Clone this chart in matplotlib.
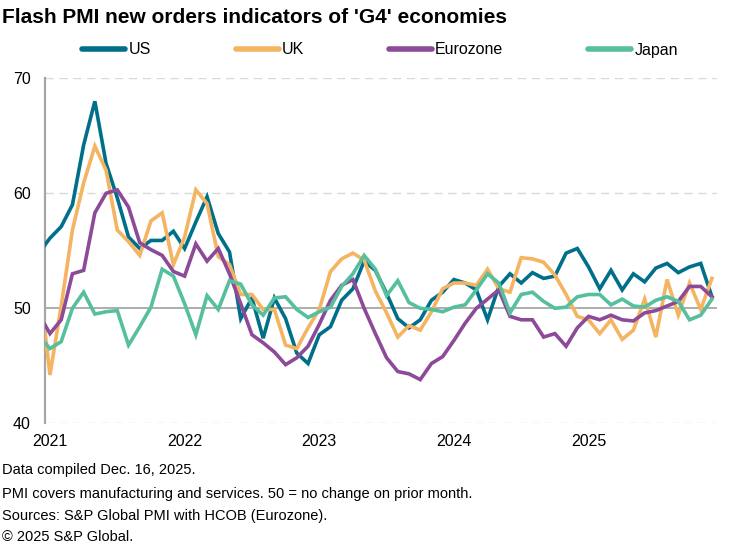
import matplotlib
matplotlib.use("Agg")
import matplotlib.pyplot as plt
from matplotlib.lines import Line2D

# ---------------- data (monthly, Dec 2020 .. Dec 2025) ----------------
month_index = list(range(-1, 60))   # -1 = Dec 2020 (clipped by axis), 0 = Jan 2021
us = [54.8,
      56.1, 57.1, 59.0, 64.2, 68.0, 62.6, 59.6, 56.2, 55.2, 55.9, 55.9, 56.7,
      55.2, 57.5, 59.7, 56.5, 54.9, 49.1, 50.9, 47.4, 50.9, 49.1, 46.1, 45.2,
      47.7, 48.4, 50.7, 51.7, 54.1, 53.3, 51.3, 49.1, 48.3, 49.0, 50.7, 51.4,
      52.5, 52.2, 51.6, 49.0, 51.9, 53.0, 52.2, 53.1, 52.6, 52.8, 54.8, 55.2,
      53.6, 51.7, 53.3, 51.6, 53.0, 52.3, 53.5, 53.9, 53.1, 53.6, 53.9, 51.0]
uk = [52.7,
      44.2, 50.2, 56.8, 60.9, 64.1, 62.0, 56.8, 55.8, 54.6, 57.6, 58.3, 53.8,
      56.2, 60.3, 59.1, 54.5, 53.8, 51.2, 51.2, 49.9, 49.9, 46.8, 46.5, 48.3,
      49.9, 53.2, 54.3, 54.8, 54.2, 51.5, 49.6, 47.5, 48.5, 48.1, 49.7, 51.7,
      52.2, 52.2, 52.0, 53.4, 51.7, 51.4, 54.4, 54.3, 54.0, 52.9, 51.2, 49.3,
      49.0, 47.8, 49.0, 47.3, 48.1, 50.8, 47.5, 52.5, 49.4, 52.2, 49.9, 52.6]
eurozone = [49.5,
      47.8, 49.0, 53.0, 53.3, 58.3, 60.0, 60.3, 58.8, 55.7, 55.1, 54.6, 53.2,
      52.8, 55.6, 54.1, 55.2, 53.0, 50.4, 47.7, 47.0, 46.2, 45.1, 45.7, 46.7,
      48.6, 50.7, 52.0, 52.5, 50.0, 47.8, 45.7, 44.5, 44.3, 43.8, 45.2, 45.8,
      47.2, 48.7, 50.0, 50.8, 51.6, 49.3, 49.0, 49.0, 47.5, 47.8, 46.7, 48.3,
      49.3, 49.0, 49.4, 49.0, 48.9, 49.6, 49.8, 50.2, 50.6, 51.9, 51.9, 51.0]
japan = [47.6,
      46.5, 47.1, 50.0, 51.4, 49.5, 49.7, 49.8, 46.8, 48.4, 50.1, 53.4, 52.8,
      50.4, 47.7, 51.1, 49.9, 52.4, 52.1, 50.3, 49.4, 50.9, 51.0, 49.9, 49.2,
      49.7, 50.1, 51.9, 53.0, 54.6, 53.4, 51.1, 52.4, 50.5, 50.0, 49.9, 49.7,
      50.1, 50.3, 51.6, 53.0, 52.2, 49.6, 51.2, 51.4, 50.6, 50.0, 50.1, 51.0,
      51.2, 51.2, 50.3, 50.8, 50.2, 50.1, 50.7, 51.0, 50.6, 49.0, 49.4, 50.8]

series_names = ["US", "UK", "Eurozone", "Japan"]
series_values = [us, uk, eurozone, japan]
series_colors = ["#00708A", "#F4B462", "#8C4A98", "#55BF9E"]

year_ticks = [0, 12, 24, 36, 48]
year_labels = ["2021", "2022", "2023", "2024", "2025"]
y_ticks = [40, 50, 60, 70]

title = "Flash PMI new orders indicators of 'G4' economies"
footnotes = ["Data compiled Dec. 16, 2025.",
             "PMI covers manufacturing and services. 50 = no change on prior month.",
             "Sources: S&P Global PMI with HCOB (Eurozone).",
             "\u00a9 2025 S&P Global."]

# ---------------- style ----------------
plt.rcParams["font.family"] = ["Liberation Sans", "DejaVu Sans"]

W, H = 737, 545
fig = plt.figure(figsize=(W / 100, H / 100), dpi=100)

def fx(px):
    return px / W

def fy(py):
    return 1 - py / H

ax_left, ax_right, ax_top, ax_bottom = 44.7, 717.0, 78.3, 423.3
ax = fig.add_axes([fx(ax_left), fy(ax_bottom), fx(ax_right - ax_left),
                   (ax_bottom - ax_top) / H])

for name, vals, col in zip(series_names, series_values, series_colors):
    ax.plot(month_index, vals, color=col, lw=2.6, solid_joinstyle="miter",
            label=name, zorder=3)

ax.set_xlim(-0.47, 59.45)
ax.set_ylim(40, 70)

for yv in [40, 60, 70]:
    ax.axhline(yv, color="#D9D9D9", lw=1.0, ls=(0, (6, 4)), zorder=1)
ax.axhline(50, color="#A0A0A0", lw=1.2, zorder=2)

for s in ["top", "right", "bottom"]:
    ax.spines[s].set_visible(False)
ax.spines["left"].set_color("#A6A6A6")
ax.spines["left"].set_linewidth(1.6)

ax.set_yticks(y_ticks)
ax.set_yticklabels([str(v) for v in y_ticks])
ax.set_xticks(year_ticks)
ax.set_xticklabels(year_labels)
ax.tick_params(axis="both", length=0, labelsize=11.5, colors="#000000")
ax.tick_params(axis="y", pad=10)
ax.tick_params(axis="x", pad=8)

# title
fig.text(fx(2), fy(23), title, fontsize=15, fontweight="bold",
         ha="left", va="baseline")

# legend
handles = [Line2D([0], [0], color=c, lw=4.0, solid_capstyle="round")
           for c in series_colors]
fig.legend(handles, series_names, loc="center",
           bbox_to_anchor=(fx(380), fy(50)), ncol=4, frameon=False,
           fontsize=11.5, handlelength=2.7, handletextpad=0.2,
           columnspacing=5.3)

# footnotes
foot_y = [470, 494, 516, 537]
for txt, yy in zip(footnotes, foot_y):
    fig.text(fx(2), fy(yy), txt, fontsize=10.5, ha="left", va="center")

fig.savefig("out.png", dpi=100)
